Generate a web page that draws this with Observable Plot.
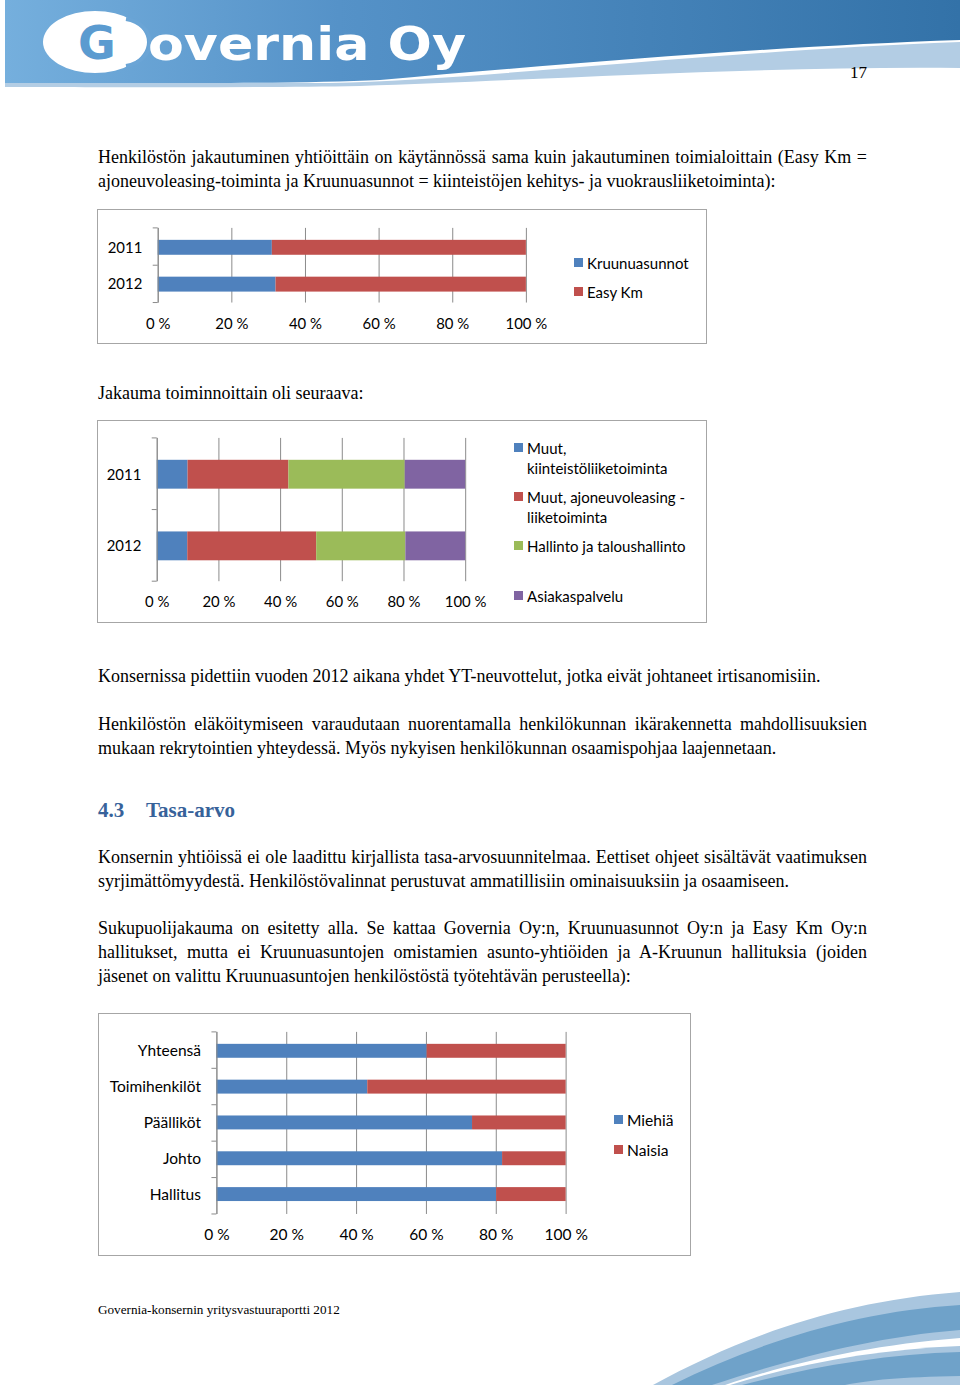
<!DOCTYPE html>
<html><head><meta charset="utf-8">
<script src="https://cdn.jsdelivr.net/npm/d3@7"></script>
<script src="https://cdn.jsdelivr.net/npm/@observablehq/plot@0.6"></script>
<style>
body{margin:0;background:#fff;}
#page{position:relative;width:960px;height:1385px;overflow:hidden;font-family:"Liberation Serif","Times New Roman",serif;color:#000;background:#fff;}
.t{position:absolute;left:98px;width:769px;font-size:18px;line-height:24px;white-space:nowrap;}
.j{text-align:justify;text-align-last:justify;}
.box{position:absolute;border:1.5px solid #a6a6a6;box-sizing:border-box;}
.box svg{position:absolute;left:0;top:0;}
.leg{position:absolute;font-family:Lato,"Open Sans",sans-serif;font-size:15px;line-height:20px;color:#000;white-space:nowrap;}
.sw{position:absolute;width:9px;height:9px;}
h3{position:absolute;margin:0;font-family:"Liberation Serif",serif;font-weight:bold;font-size:21px;line-height:24px;color:#37629a;}
</style></head>
<body><div id="page">
<svg width="960" height="100" style="position:absolute;left:0;top:0">
  <defs>
    <linearGradient id="hg" x1="0" x2="1" y1="0" y2="0">
      <stop offset="0" stop-color="#75afdd"/>
      <stop offset="0.35" stop-color="#5592c8"/>
      <stop offset="1" stop-color="#3372a8"/>
    </linearGradient>
  </defs>
  <path d="M5,0 H960 V40 C780,46 560,64 380,80 C300,84 150,83 5,83 Z" fill="url(#hg)"/>
  <path d="M5,83 H330 C480,80 700,52 960,42 V68 C760,66 540,80 360,86 C250,88 100,87 5,87 Z" fill="#b3cde4"/>
  <ellipse cx="95" cy="42" rx="52" ry="31" fill="#fff"/>
  <text x="97" y="59" text-anchor="middle" font-family="DejaVu Sans" font-weight="bold" font-size="46" fill="#5b9bd0">G</text>
  <path d="M126,19 A30,24 0 0,1 126,66" fill="none" stroke="#6ba5d6" stroke-width="4"/>
  <text x="148" y="60" font-family="DejaVu Sans" font-weight="bold" font-size="46" fill="#fff" textLength="318" lengthAdjust="spacingAndGlyphs">overnia Oy</text>
</svg>
<div class="t" style="top:61px;left:800px;width:67px;text-align:right;font-size:17px">17</div>

<div class="t j" style="top:145px">Henkilöstön jakautuminen yhtiöittäin on käytännössä sama kuin jakautuminen toimialoittain (Easy Km =</div>
<div class="t" style="top:169px">ajoneuvoleasing-toiminta ja Kruunuasunnot = kiinteistöjen kehitys- ja vuokrausliiketoiminta):</div>

<div class="box" id="c1" style="left:97px;top:209px;width:610px;height:135px"></div>

<div class="t" style="top:381px">Jakauma toiminnoittain oli seuraava:</div>

<div class="box" id="c2" style="left:97px;top:420px;width:610px;height:203px"></div>

<div class="t" style="top:664px">Konsernissa pidettiin vuoden 2012 aikana yhdet YT-neuvottelut, jotka eivät johtaneet irtisanomisiin.</div>
<div class="t j" style="top:712px">Henkilöstön eläköitymiseen varaudutaan nuorentamalla henkilökunnan ikärakennetta mahdollisuuksien</div>
<div class="t" style="top:736px">mukaan rekrytointien yhteydessä. Myös nykyisen henkilökunnan osaamispohjaa laajennetaan.</div>

<h3 style="left:98px;top:798px">4.3</h3>
<h3 style="left:146px;top:798px">Tasa-arvo</h3>

<div class="t j" style="top:845px">Konsernin yhtiöissä ei ole laadittu kirjallista tasa-arvosuunnitelmaa. Eettiset ohjeet sisältävät vaatimuksen</div>
<div class="t" style="top:869px">syrjimättömyydestä. Henkilöstövalinnat perustuvat ammatillisiin ominaisuuksiin ja osaamiseen.</div>
<div class="t j" style="top:916px">Sukupuolijakauma on esitetty alla. Se kattaa Governia Oy:n, Kruunuasunnot Oy:n ja Easy Km Oy:n</div>
<div class="t j" style="top:940px">hallitukset, mutta ei Kruunuasuntojen omistamien asunto-yhtiöiden ja A-Kruunun hallituksia (joiden</div>
<div class="t" style="top:964px">jäsenet on valittu Kruunuasuntojen henkilöstöstä työtehtävän perusteella):</div>

<div class="box" id="c3" style="left:98px;top:1013px;width:593px;height:243px"></div>

<div class="t" style="top:1301px;font-size:13.2px;line-height:18px">Governia-konsernin yritysvastuuraportti 2012</div>

<svg width="960" height="110" style="position:absolute;left:0;top:1275px">
  <path d="M653,110 C740,62 840,26 960,17 V63 C870,70 790,88 725,110 Z" fill="#a9c6df"/>
  <path d="M672,110 C760,66 860,36 960,30 V55 C870,62 785,86 712,110 Z" fill="#6fa2c9"/>
  <path d="M730,110 C800,88 880,74 960,71 V110 H850 Z" fill="#a9c6df"/>
  <path d="M742,110 C810,92 885,79 960,77 V101 C900,102 870,105 845,110 Z" fill="#6fa2c9"/>
</svg>
</div>
<script>
// ---- data ----
const years = ["2011", "2012"];
const companySeries = ["Kruunuasunnot", "Easy Km"];
const kruunuasunnot = [31, 32];
const easyKm = [69, 68];

const functionSeries = ["Muut, kiinteistöliiketoiminta", "Muut, ajoneuvoleasing -liiketoiminta", "Hallinto ja taloushallinto", "Asiakaspalvelu"];
const muutKiinteisto = [10, 9.9];
const muutAjoneuvo = [32.7, 41.8];
const hallinto = [37.7, 28.9];
const asiakaspalvelu = [19.6, 19.4];

const groups = ["Yhteensä", "Toimihenkilöt", "Päälliköt", "Johto", "Hallitus"];
const genderSeries = ["Miehiä", "Naisia"];
const miehia = [60.2, 43.2, 73.2, 81.8, 80.1];
const naisia = [39.8, 56.8, 26.8, 18.2, 19.9];

const percentTicks = [0, 20, 40, 60, 80, 100];
const officeColors = ["#4f81bd", "#c0504d", "#9bbb59", "#8064a2"];

// ---- chart builder ----
function stackedChart(el, cats, seriesNames, seriesValues, m, legend, fontSize) {
  const box = document.getElementById(el);
  const w = box.clientWidth + 3, h = box.clientHeight + 3;
  const rows = [];
  seriesNames.forEach((s, i) => cats.forEach((c, j) => rows.push({cat: c, series: s, value: seriesValues[i][j]})));
  const grid = "#8a8a8a";
  const boundaryTicks = (index, scales, values, dims) => {
    const g = d3.create("svg:g").attr("stroke", grid);
    const top = dims.marginTop, bottom = dims.height - dims.marginBottom;
    const x0 = scales.x(0);
    const step = (bottom - top) / cats.length;
    for (let i = 0; i <= cats.length; i++) {
      const y = top + i * step;
      g.append("line").attr("x1", x0 - 5).attr("x2", x0).attr("y1", y).attr("y2", y);
    }
    return g.node();
  };
  const svg = Plot.plot({
    width: w, height: h,
    marginLeft: m.l, marginRight: m.r, marginTop: m.t, marginBottom: m.b,
    style: {fontFamily: "Lato, 'Open Sans', sans-serif", fontSize: fontSize + "px", color: "#000", background: "transparent", overflow: "visible"},
    x: {domain: [0, 100], label: null},
    y: {domain: cats, paddingInner: 0.6, paddingOuter: 0.3, label: null},
    color: {domain: seriesNames, range: officeColors.slice(0, seriesNames.length)},
    marks: [
      Plot.gridX(percentTicks, {stroke: grid, strokeOpacity: 1}),
      Plot.barX(rows, Plot.stackX({x: "value", y: "cat", fill: "series", order: seriesNames})),
      Plot.ruleX([0], {stroke: grid}),
      boundaryTicks,
      Plot.axisX(percentTicks, {tickSize: 0, tickPadding: 15, tickFormat: d => d + " %", label: null}),
      Plot.axisY({tickSize: 0, tickPadding: 16, label: null})
    ]
  });
  svg.style.left = "-1.5px"; svg.style.top = "-1.5px";
  box.appendChild(svg);
  legend.forEach((it, i) => {
    const d = document.createElement("div");
    d.className = "leg";
    d.style.left = (it.x + 13) + "px";
    d.style.top = (it.y - 10) + "px";
    d.style.fontSize = fontSize + "px";
    d.innerHTML = it.lines.join("<br>");
    const s = document.createElement("div");
    s.className = "sw";
    s.style.left = it.x + "px";
    s.style.top = (it.y - 5) + "px";
    s.style.background = officeColors[i];
    box.appendChild(s); box.appendChild(d);
  });
}

stackedChart("c1", years, companySeries, [kruunuasunnot, easyKm],
  {l: 61, r: 180, t: 19, b: 42},
  [{x: 476, y: 53, lines: [companySeries[0]]}, {x: 476, y: 82, lines: [companySeries[1]]}], 15);

stackedChart("c2", years, functionSeries, [muutKiinteisto, muutAjoneuvo, hallinto, asiakaspalvelu],
  {l: 60, r: 241, t: 18, b: 42},
  [{x: 416, y: 27, lines: ["Muut,", "kiinteistöliiketoiminta"]},
   {x: 416, y: 76, lines: ["Muut, ajoneuvoleasing -", "liiketoiminta"]},
   {x: 416, y: 125, lines: [functionSeries[2]]},
   {x: 416, y: 175, lines: [functionSeries[3]]}], 15);

stackedChart("c3", groups, genderSeries, [miehia, naisia],
  {l: 119, r: 124, t: 19, b: 42},
  [{x: 515, y: 106, lines: [genderSeries[0]]}, {x: 515, y: 136, lines: [genderSeries[1]]}], 15.6);
</script>
</body></html>
